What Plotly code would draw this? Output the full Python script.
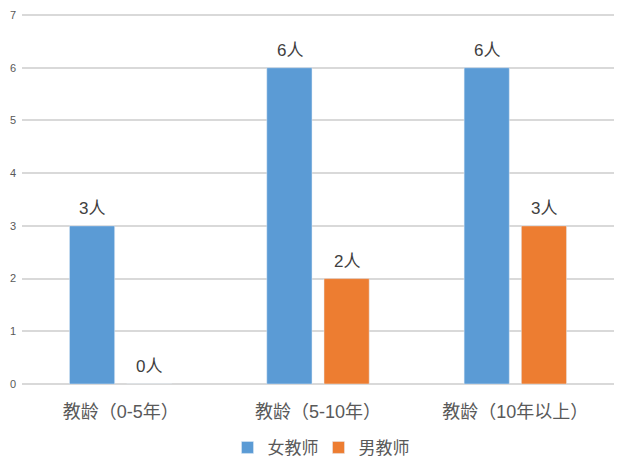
import plotly.graph_objects as go

categories = ["教龄（0-5年）", "教龄（5-10年）", "教龄（10年以上）"]
female = [3, 6, 6]
male = [0, 2, 3]
female_labels = ["3人", "6人", "6人"]
male_labels = ["0人", "2人", "3人"]

font_fam = "Liberation Sans, Noto Sans CJK SC, sans-serif"

fig = go.Figure()
fig.add_trace(go.Bar(x=categories, y=female, name="女教师", marker_color="#5B9BD5"))
fig.add_trace(go.Bar(x=categories, y=male, name="男教师", marker_color="#ED7D31"))

# data labels above each bar, shifted to the bar's slot in the group
for vals, labs, shift in [(female, female_labels, -28.5), (male, male_labels, 28.5)]:
    for c, v, t in zip(categories, vals, labs):
        fig.add_annotation(x=c, y=v, text=t, showarrow=False, xshift=shift,
                           yanchor="bottom", yshift=6,
                           font=dict(size=17, color="#404040", family=font_fam))

# page body has an 8px margin, so the figure is a bit smaller than the window
fig.update_layout(
    width=621, height=464,
    margin=dict(l=14, r=15, t=6, b=88),
    plot_bgcolor="white", paper_bgcolor="white",
    font=dict(family=font_fam, color="#595959"),
    barmode="group", bargap=0.42, bargroupgap=0.21,
    showlegend=True,
    legend=dict(orientation="h", x=0.5, xanchor="center", xref="container",
                y=0.052, yanchor="middle", yref="container",
                font=dict(size=17, color="#595959"), itemwidth=30, entrywidth=46),
)
fig.update_xaxes(tickfont=dict(size=18, color="#595959"), showline=False, ticks="",
                 automargin=False, ticklabelstandoff=15)
fig.update_yaxes(range=[0, 7.02], tickvals=[0, 1, 2, 3, 4, 5, 6, 7],
                 gridcolor="#D9D9D9", gridwidth=1.5,
                 zeroline=True, zerolinecolor="#D9D9D9", zerolinewidth=1.5,
                 tickfont=dict(size=11, color="#595959"), ticks="",
                 ticklabelstandoff=5, automargin=False, ticklabeloverflow="allow")

fig.write_html("out.html")
